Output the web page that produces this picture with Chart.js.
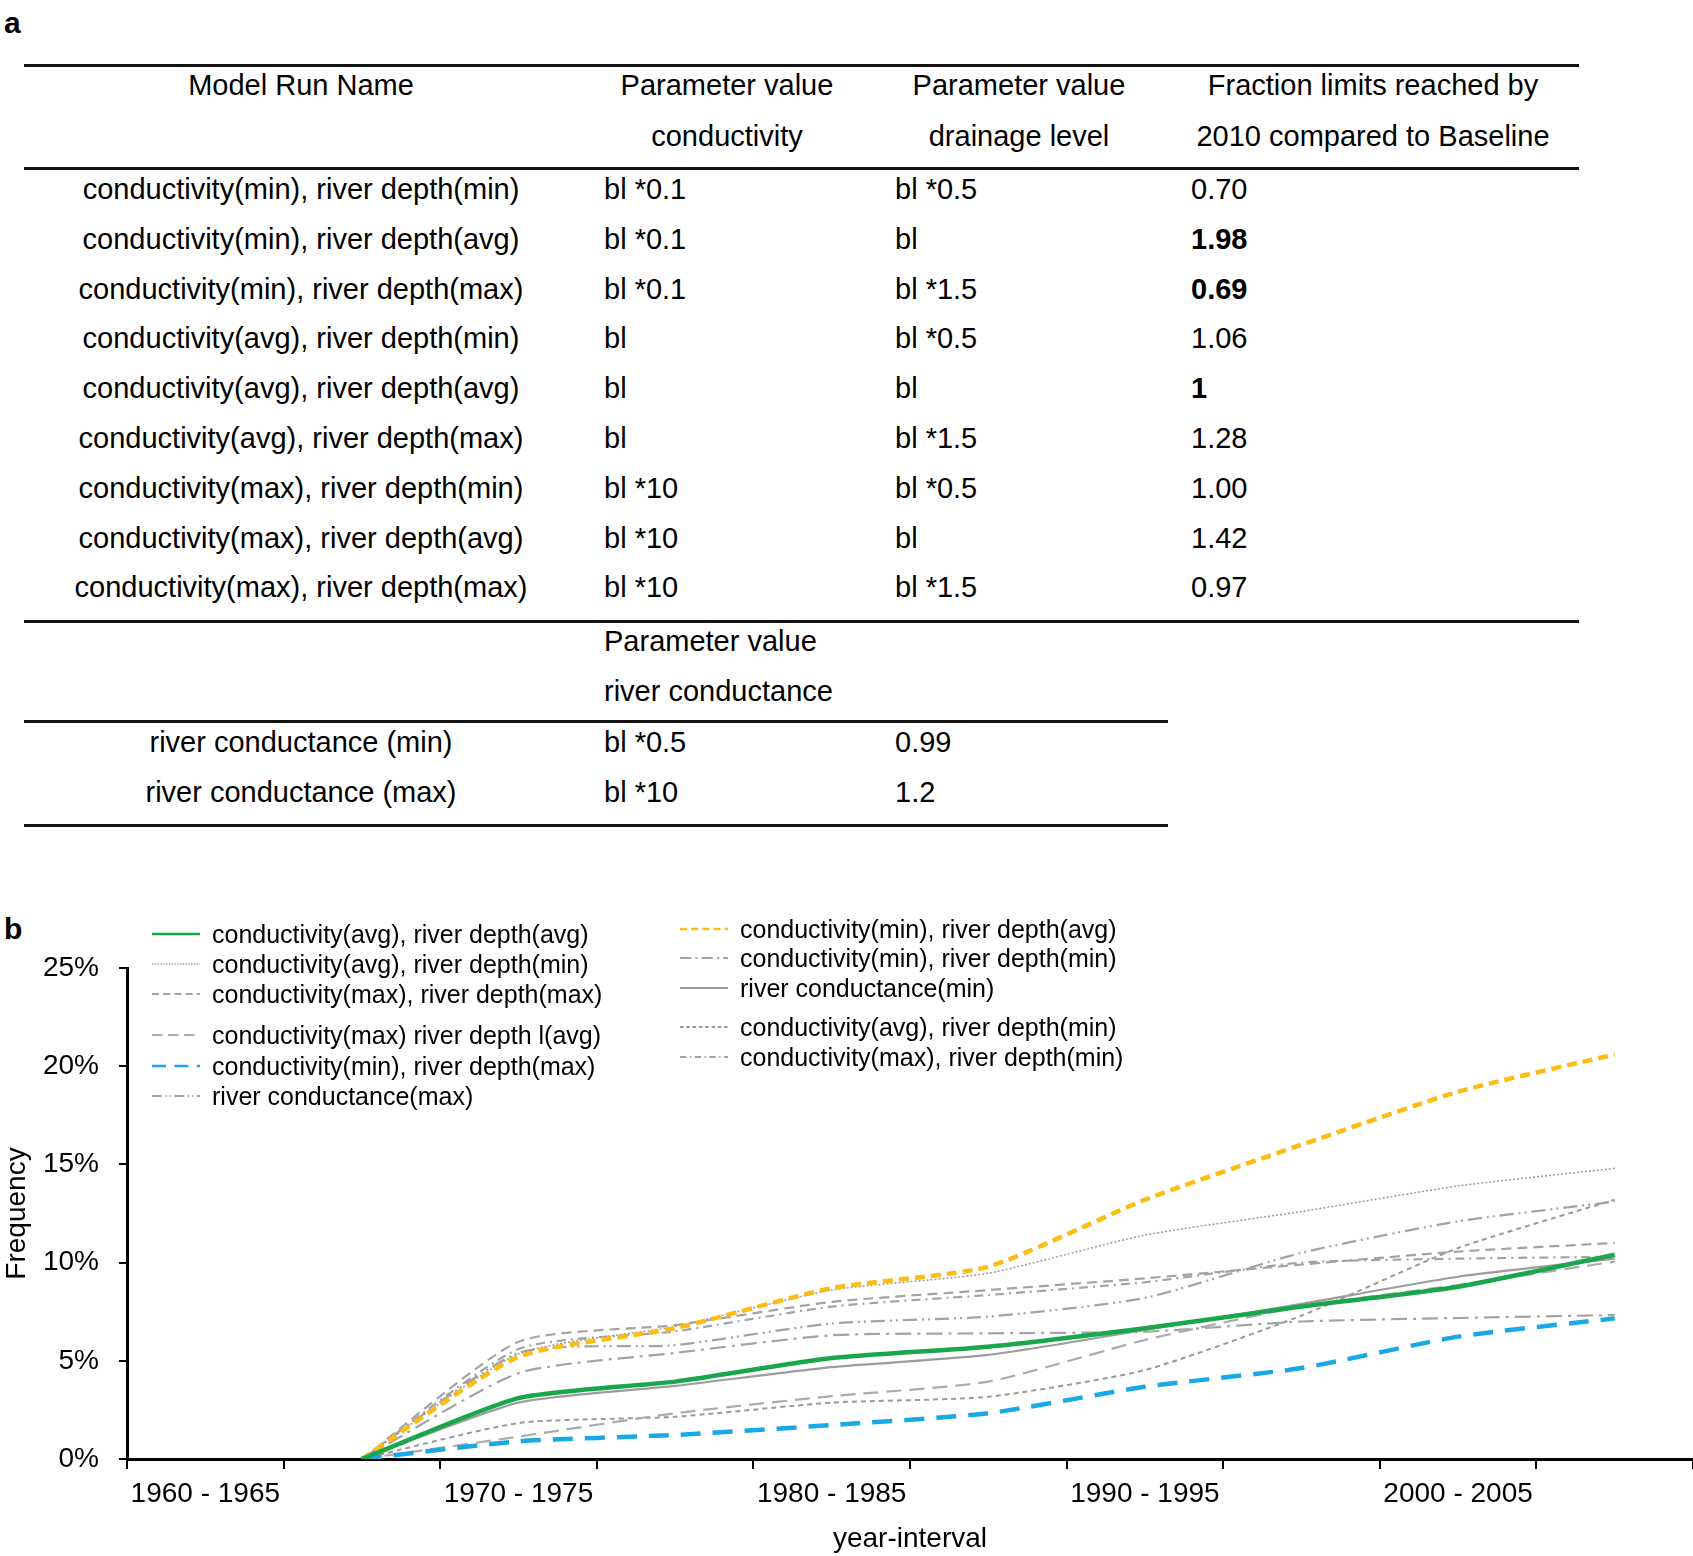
<!DOCTYPE html>
<html>
<head>
<meta charset="utf-8">
<script src="https://cdn.jsdelivr.net/npm/chart.js@4.4.1/dist/chart.umd.min.js"></script>
<style>
  html, body { margin: 0; padding: 0; background: #fff; }
  #page { position: relative; width: 1693px; height: 1556px; font-family: "Liberation Sans", Arial, sans-serif; color: #000; overflow: hidden; }
  .panel { position: absolute; font-weight: bold; font-size: 30px; line-height: 30px; }
  .rule { position: absolute; height: 3px; background: #111; }
  .cell { position: absolute; font-size: 29px; line-height: 34px; white-space: nowrap; transform: translateY(-50%); }
  .cell.mid { transform: translate(-50%, -50%); }
  .cell.b { font-weight: bold; }
  #chartBox { position: absolute; left: 0; top: 880px; width: 1693px; height: 676px; }
  .leg { position: absolute; font-size: 25px; line-height: 28px; white-space: nowrap; transform: translateY(-50%); display: flex; align-items: center; }
  .leg svg { margin-right: 12px; flex: none; }
</style>
</head>
<body>
<div id="page">
  <div class="panel" style="left:4px;top:8px;">a</div>
  <div class="panel" style="left:4px;top:914px;">b</div>
  <div id="table"></div>
  <div id="chartBox"><canvas id="freqChart" width="1693" height="676"></canvas></div>
  <div id="legend"></div>
</div>
<script>
// ---- table (panel a) ----
const runNames = [
  'conductivity(min), river depth(min)',
  'conductivity(min), river depth(avg)',
  'conductivity(min), river depth(max)',
  'conductivity(avg), river depth(min)',
  'conductivity(avg), river depth(avg)',
  'conductivity(avg), river depth(max)',
  'conductivity(max), river depth(min)',
  'conductivity(max), river depth(avg)',
  'conductivity(max), river depth(max)'
];
const conductivityParam = ['bl *0.1', 'bl *0.1', 'bl *0.1', 'bl', 'bl', 'bl', 'bl *10', 'bl *10', 'bl *10'];
const drainageParam = ['bl *0.5', 'bl', 'bl *1.5', 'bl *0.5', 'bl', 'bl *1.5', 'bl *0.5', 'bl', 'bl *1.5'];
const fractionReached = ['0.70', '1.98', '0.69', '1.06', '1', '1.28', '1.00', '1.42', '0.97'];
const fractionBold = [false, true, true, false, true, false, false, false, false];

const conductanceRuns = ['river conductance (min)', 'river conductance (max)'];
const conductanceParam = ['bl *0.5', 'bl *10'];
const conductanceFraction = ['0.99', '1.2'];

// ---- chart (panel b) ----
const yearIntervals = ['1960 - 1965', '1965 - 1970', '1970 - 1975', '1975 - 1980', '1980 - 1985',
  '1985 - 1990', '1990 - 1995', '1995 - 2000', '2000 - 2005', '2005 - 2010'];
const yTicks = [0, 5, 10, 15, 20, 25];

const condAvgDepthAvg = [null, 0, 3.1, 3.94, 5.14, 5.72, 6.66, 7.76, 8.77, 10.4];
const condAvgDepthMinDotted = [null, 0, 5.35, 6.75, 8.6, 9.46, 11.4, 12.6, 13.9, 14.8];
const condMaxDepthMax = [null, 0, 5.97, 6.82, 8.0, 8.6, 9.2, 9.9, 10.56, 11.0];
const condMaxDepthAvg = [null, 0, 1.14, 2.33, 3.2, 3.94, 6.06, 7.76, 8.86, 10.05];
const condMinDepthMax = [null, 0, 0.9, 1.22, 1.73, 2.33, 3.68, 4.63, 6.23, 7.16];
const conductanceMax = [null, 0, 5.4, 5.8, 6.9, 7.25, 8.2, 10.5, 12.1, 13.1];
const condMinDepthAvg = [null, 0, 5.2, 6.66, 8.7, 9.79, 13.2, 16.0, 18.7, 20.6];
const condMinDepthMin = [null, 0, 4.37, 5.4, 6.3, 6.4, 6.48, 7.0, 7.18, 7.33];
const conductanceMin = [null, 0, 2.87, 3.72, 4.68, 5.3, 6.57, 7.9, 9.28, 10.2];
const condAvgDepthMinDashed = [null, 0, 1.83, 2.15, 2.87, 3.17, 4.53, 7.3, 10.74, 13.2];
const condMaxDepthMin = [null, 0, 5.6, 6.5, 7.76, 8.35, 9.0, 10.0, 10.2, 10.3];

// build the table
const table = document.getElementById('table');
function rule(y, x1, x2) {
  const d = document.createElement('div');
  d.className = 'rule';
  d.style.left = x1 + 'px'; d.style.top = (y - 1.5) + 'px'; d.style.width = (x2 - x1) + 'px';
  table.appendChild(d);
}
function cell(text, x, y, mid, bold) {
  const d = document.createElement('div');
  d.className = 'cell' + (mid ? ' mid' : '') + (bold ? ' b' : '');
  d.style.left = x + 'px'; d.style.top = y + 'px';
  d.textContent = text;
  table.appendChild(d);
}
rule(65, 24, 1579);
rule(168, 24, 1579);
rule(621, 24, 1579);
rule(721, 24, 1168);
rule(825, 24, 1168);
cell('Model Run Name', 301, 85, true);
cell('Parameter value', 727, 85, true);
cell('conductivity', 727, 136, true);
cell('Parameter value', 1019, 85, true);
cell('drainage level', 1019, 136, true);
cell('Fraction limits reached by', 1373, 85, true);
cell('2010 compared to Baseline', 1373, 136, true);
runNames.forEach((name, i) => {
  const y = 189 + i * 49.8;
  cell(name, 301, y, true);
  cell(conductivityParam[i], 604, y);
  cell(drainageParam[i], 895, y);
  cell(fractionReached[i], 1191, y, false, fractionBold[i]);
});
cell('Parameter value', 604, 641);
cell('river conductance', 604, 691);
conductanceRuns.forEach((name, i) => {
  const y = 742 + i * 50;
  cell(name, 301, y, true);
  cell(conductanceParam[i], 604, y);
  cell(conductanceFraction[i], 895, y);
});

// chart
const gray = '#a3a3a3';
const datasets = [
  { label: 'conductivity(avg), river depth(avg)', data: condAvgDepthAvg, borderColor: '#1aa64a', borderWidth: 4.5, borderDash: [], order: 0 },
  { label: 'conductivity(avg), river depth(min)', data: condAvgDepthMinDotted, borderColor: '#9a9a9a', borderWidth: 1.5, borderDash: [2, 2], order: 2 },
  { label: 'conductivity(max), river depth(max)', data: condMaxDepthMax, borderColor: gray, borderWidth: 2.2, borderDash: [10, 6], order: 2 },
  { label: 'conductivity(max) river depth l(avg)', data: condMaxDepthAvg, borderColor: '#ababab', borderWidth: 2.2, borderDash: [15, 8], order: 2 },
  { label: 'conductivity(min), river depth(max)', data: condMinDepthMax, borderColor: '#1aa9e6', borderWidth: 4.5, borderDash: [20, 12], order: 0 },
  { label: 'river conductance(max)', data: conductanceMax, borderColor: gray, borderWidth: 2.2, borderDash: [14, 5, 2, 4, 2, 5], order: 2 },
  { label: 'conductivity(min), river depth(avg)', data: condMinDepthAvg, borderColor: '#fbbd12', borderWidth: 4.5, borderDash: [10, 6], order: 0 },
  { label: 'conductivity(min), river depth(min)', data: condMinDepthMin, borderColor: gray, borderWidth: 2.2, borderDash: [16, 6, 3, 6], order: 2 },
  { label: 'river conductance(min)', data: conductanceMin, borderColor: '#9c9c9c', borderWidth: 2.2, borderDash: [], order: 1 },
  { label: 'conductivity(avg), river depth(min)', data: condAvgDepthMinDashed, borderColor: '#9a9a9a', borderWidth: 2, borderDash: [5, 4], order: 2 },
  { label: 'conductivity(max), river depth(min)', data: condMaxDepthMin, borderColor: gray, borderWidth: 2.2, borderDash: [9, 5, 2, 5], order: 2 }
];
datasets.forEach(d => { d.fill = false; d.pointRadius = 0; d.tension = 0.2; });

const ctx = document.getElementById('freqChart').getContext('2d');
const chart = new Chart(ctx, {
  type: 'line',
  data: { labels: yearIntervals, datasets: datasets },
  options: {
    responsive: false,
    animation: false,
    devicePixelRatio: 1,
    layout: { padding: { top: 88, left: 0, right: 0, bottom: 0 } },
    plugins: { legend: { display: false }, tooltip: { enabled: false } },
    scales: {
      x: {
        type: 'category',
        offset: true,
        grid: { display: true, drawOnChartArea: false, offset: true, color: '#000', tickColor: '#000', tickLength: 10, lineWidth: 2 },
        border: { display: true, color: '#000', width: 3 },
        ticks: {
          autoSkip: false, maxRotation: 0, padding: 8, color: '#000',
          font: { family: '"Liberation Sans", Arial, sans-serif', size: 28 },
          callback: (v, i) => (i % 2 === 0 ? yearIntervals[i] : '')
        },
        title: { display: true, text: 'year-interval', color: '#000', padding: { top: 0, bottom: 0 },
          font: { family: '"Liberation Sans", Arial, sans-serif', size: 28 } },
        afterFit: s => { s.height = 97; }
      },
      y: {
        min: 0, max: 25,
        afterBuildTicks: s => { s.ticks = yTicks.map(v => ({ value: v })); },
        grid: { display: true, drawOnChartArea: false, color: '#000', tickColor: '#000', tickLength: 8, lineWidth: 2 },
        border: { display: true, color: '#000', width: 3 },
        ticks: { padding: 20, color: '#000', font: { family: '"Liberation Sans", Arial, sans-serif', size: 28 },
          callback: v => v + '%' },
        title: { display: true, text: 'Frequency', color: '#000', padding: { top: 0, bottom: 0 },
          font: { family: '"Liberation Sans", Arial, sans-serif', size: 28 } },
        afterFit: s => { s.width = 127; }
      }
    }
  }
});

// html legend, two columns, built from the chart's datasets
const legendSlots = [
  [152, 934], [152, 964], [152, 994], [152, 1035], [152, 1066], [152, 1096],
  [680, 929], [680, 958], [680, 988], [680, 1027], [680, 1057]
];
const legend = document.getElementById('legend');
chart.data.datasets.forEach((ds, i) => {
  const item = document.createElement('div');
  item.className = 'leg';
  item.style.left = legendSlots[i][0] + 'px';
  item.style.top = legendSlots[i][1] + 'px';
  const w = Math.min(ds.borderWidth, 2.5);
  const dash = ds.borderDash.length ? ds.borderDash.map(n => n * 0.7).join(' ') : 'none';
  item.innerHTML = '<svg width="48" height="10"><line x1="0" y1="5" x2="48" y2="5" stroke="' + ds.borderColor +
    '" stroke-width="' + w + '" stroke-dasharray="' + dash + '"/></svg>';
  const span = document.createElement('span');
  span.textContent = ds.label;
  item.appendChild(span);
  legend.appendChild(item);
});
</script>
</body>
</html>
